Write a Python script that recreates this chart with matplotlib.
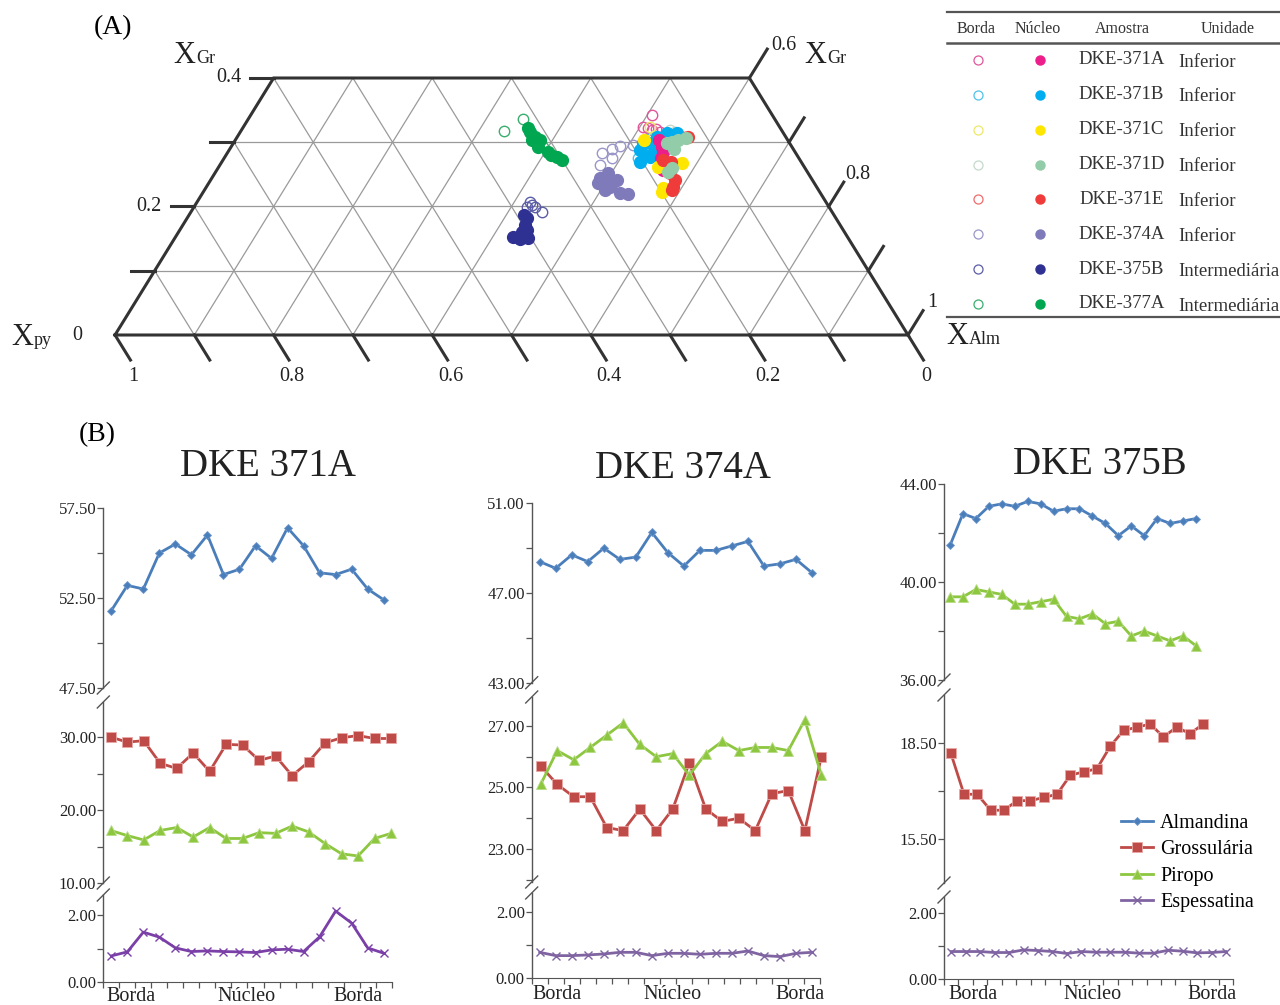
import matplotlib
matplotlib.use('Agg')
import matplotlib.pyplot as plt
from matplotlib.lines import Line2D
from matplotlib.ticker import FixedLocator, FormatStrFormatter
import numpy as np

plt.rcParams['font.family'] = ['Liberation Serif', 'DejaVu Serif']

# ---------------- ternary data (X_Gr, X_Alm) ----------------
samples = ['DKE-371A', 'DKE-371B', 'DKE-371C', 'DKE-371D', 'DKE-371E', 'DKE-374A', 'DKE-375B', 'DKE-377A']
units = ['Inferior', 'Inferior', 'Inferior', 'Inferior', 'Inferior', 'Inferior', 'Intermediária', 'Intermediária']
core_colors = ['#EC1E8C', '#00AEEF', '#FFE600', '#93CCA8', '#EF3B39', '#7F7BBB', '#2E3192', '#00A650']
rim_colors = ['#E0569B', '#4FC3E8', '#EDE86A', '#C5D9CB', '#EE6B6E', '#9A96C8', '#5B5EA6', '#3AAE6E']

gr_371A_core = [0.293, 0.285, 0.303, 0.261, 0.257, 0.275]
alm_371A_core = [0.543, 0.548, 0.535, 0.563, 0.562, 0.551]
gr_371A_rim = [0.342, 0.324, 0.322, 0.319, 0.321, 0.316]
alm_371A_rim = [0.506, 0.504, 0.511, 0.518, 0.522, 0.529]

gr_371B_core = [0.299, 0.288, 0.299, 0.308, 0.314, 0.311, 0.269, 0.277, 0.285, 0.296, 0.303, 0.280, 0.314]
alm_371B_core = [0.516, 0.518, 0.525, 0.529, 0.539, 0.546, 0.527, 0.536, 0.538, 0.542, 0.548, 0.528, 0.552]
gr_371B_rim = [0.275, 0.291, 0.305]
alm_371B_rim = [0.522, 0.522, 0.520]

gr_371C_core = [0.268, 0.223, 0.229, 0.261, 0.303]
alm_371C_core = [0.581, 0.578, 0.576, 0.554, 0.516]
gr_371C_rim = [0.324, 0.310]
alm_371C_rim = [0.513, 0.525]

gr_371D_core = [0.299, 0.300, 0.307, 0.260, 0.254, 0.303, 0.290]
alm_371D_core = [0.546, 0.552, 0.567, 0.572, 0.570, 0.558, 0.560]
gr_371D_rim = [0.319, 0.316]
alm_371D_rim = [0.540, 0.548]

gr_371E_core = [0.308, 0.272, 0.269, 0.230, 0.226, 0.252, 0.241]
alm_371E_core = [0.569, 0.555, 0.567, 0.589, 0.589, 0.574, 0.586]
gr_371E_rim = [0.308, 0.296]
alm_371E_rim = [0.564, 0.537]

gr_374A_core = [0.244, 0.241, 0.238, 0.233, 0.230, 0.241, 0.221, 0.219, 0.252, 0.226, 0.237]
alm_374A_core = [0.490, 0.500, 0.509, 0.499, 0.509, 0.513, 0.526, 0.537, 0.496, 0.505, 0.491]
gr_374A_rim = [0.283, 0.289, 0.275, 0.265, 0.296, 0.294]
alm_374A_rim = [0.473, 0.482, 0.489, 0.479, 0.505, 0.490]

gr_375B_core = [0.182, 0.171, 0.163, 0.160, 0.153, 0.149, 0.151, 0.187]
alm_375B_core = [0.429, 0.432, 0.438, 0.433, 0.426, 0.436, 0.445, 0.422]
gr_375B_rim = [0.207, 0.199, 0.199, 0.191, 0.202]
alm_375B_rim = [0.420, 0.420, 0.430, 0.443, 0.425]

gr_377A_core = [0.316, 0.308, 0.303, 0.303, 0.285, 0.280, 0.277, 0.272, 0.322, 0.293]
alm_377A_core = [0.365, 0.376, 0.374, 0.384, 0.403, 0.410, 0.419, 0.428, 0.360, 0.387]
gr_377A_rim = [0.318, 0.336, 0.293]
alm_377A_rim = [0.332, 0.347, 0.393]

# ---------------- profile data (mol %) ----------------
titles = ['DKE 371A', 'DKE 374A', 'DKE 375B']
series_names = ['Almandina', 'Grossulária', 'Piropo', 'Espessatina']

alm_371A = [51.8, 53.2, 53.0, 55.0, 55.5, 54.9, 56.0, 53.8, 54.1, 55.4, 54.7, 56.4, 55.4, 53.9, 53.8, 54.1, 53.0, 52.4]
grs_371A = [30.0, 29.3, 29.5, 26.4, 25.7, 27.8, 25.3, 29.0, 28.9, 26.8, 27.4, 24.7, 26.6, 29.2, 29.9, 30.2, 29.8, 29.8]
prp_371A = [17.2, 16.5, 15.9, 17.2, 17.6, 16.3, 17.6, 16.1, 16.1, 16.9, 16.8, 17.8, 17.0, 15.4, 14.0, 13.7, 16.1, 16.8]
sps_371A = [0.78, 0.90, 1.49, 1.34, 1.02, 0.91, 0.93, 0.91, 0.90, 0.88, 0.96, 0.98, 0.91, 1.35, 2.12, 1.76, 1.02, 0.86]

alm_374A = [48.4, 48.1, 48.7, 48.4, 49.0, 48.5, 48.6, 49.7, 48.8, 48.2, 48.9, 48.9, 49.1, 49.3, 48.2, 48.3, 48.5, 47.9]
grs_374A = [25.7, 25.1, 24.7, 24.7, 23.7, 23.6, 24.3, 23.6, 24.3, 25.8, 24.3, 23.9, 24.0, 23.6, 24.8, 24.9, 23.6, 26.0]
prp_374A = [25.1, 26.2, 25.9, 26.3, 26.7, 27.1, 26.4, 26.0, 26.1, 25.4, 26.1, 26.5, 26.2, 26.3, 26.3, 26.2, 27.2, 25.4]
sps_374A = [0.77, 0.67, 0.67, 0.69, 0.72, 0.77, 0.77, 0.67, 0.74, 0.74, 0.71, 0.74, 0.74, 0.81, 0.67, 0.64, 0.74, 0.77]

alm_375B = [41.5, 42.8, 42.6, 43.1, 43.2, 43.1, 43.3, 43.2, 42.9, 43.0, 43.0, 42.7, 42.4, 41.9, 42.3, 41.9, 42.6, 42.4, 42.5, 42.6]
grs_375B = [18.2, 16.9, 16.9, 16.4, 16.4, 16.7, 16.7, 16.8, 16.9, 17.5, 17.6, 17.7, 18.4, 18.9, 19.0, 19.1, 18.7, 19.0, 18.8, 19.1]
prp_375B = [39.4, 39.4, 39.7, 39.6, 39.5, 39.1, 39.1, 39.2, 39.3, 38.6, 38.5, 38.7, 38.3, 38.4, 37.8, 38.0, 37.8, 37.6, 37.8, 37.4]
sps_375B = [0.84, 0.84, 0.84, 0.81, 0.81, 0.89, 0.87, 0.84, 0.78, 0.84, 0.82, 0.82, 0.82, 0.79, 0.79, 0.88, 0.85, 0.80, 0.81, 0.84]

profile_labels = ['Borda', 'Núcleo', 'Borda']

# ---------------- figure ----------------
W, H = 1280, 1005
fig = plt.figure(figsize=(W / 100, H / 100), dpi=100)


def px_axes(x0, y0, x1, y1):
    return fig.add_axes([x0 / W, 1 - y1 / H, (x1 - x0) / W, (y1 - y0) / H])


def ftext(x, y, s, **kw):
    return fig.text(x / W, 1 - y / H, s, **kw)


# ================= (A) ternary =================
edge_c = '#333333'
grid_c = '#9a9a9a'
axT = px_axes(115, 78, 908, 335)
axT.set_xlim(0, 1)
axT.set_ylim(0, 0.4)
axT.axis('off')


def tern(gr, alm):
    gr = np.asarray(gr, dtype=float)
    alm = np.asarray(alm, dtype=float)
    return alm + gr / 2, gr


for g in [0.1, 0.2, 0.3]:
    axT.plot(*tern([g, g], [0, 1 - g]), color=grid_c, lw=0.9, zorder=1)
for a in np.arange(1, 10) / 10:
    gm = min(0.4, 1 - a)
    axT.plot(*tern([0, gm], [a, a]), color=grid_c, lw=0.9, zorder=1)
for p in np.arange(1, 10) / 10:
    gm = min(0.4, 1 - p)
    axT.plot(*tern([0, gm], [1 - p, 1 - p - gm]), color=grid_c, lw=0.9, zorder=1)

# outline
ox, oy = tern([0, 0.4, 0.4, 0, 0], [0, 0, 0.6, 1, 0])
axT.plot(ox, oy, color=edge_c, lw=2.2, clip_on=False, zorder=3, solid_joinstyle='miter')

# bottom ticks (X_py)
for a in np.arange(0, 11) / 10:
    axT.plot(*tern([0, -0.039], [a, a + 0.039]), color=edge_c, lw=2.2, clip_on=False)
for a, lab in zip([0, 0.2, 0.4, 0.6, 0.8, 1.0], ['1', '0.8', '0.6', '0.4', '0.2', '0']):
    axT.text(a + 0.023, -0.064, lab, ha='center', va='center', fontsize=14.5, color='#222')
# left ticks (X_Gr)
for g in [0.1, 0.2, 0.3, 0.4]:
    axT.plot([g / 2 - 0.030, g / 2], [g, g], color=edge_c, lw=2.2, clip_on=False)
axT.text(0.2 - 0.057, 0.4, '0.4', ha='center', va='center', fontsize=14.5, color='#222')
axT.text(0.1 - 0.057, 0.2, '0.2', ha='center', va='center', fontsize=14.5, color='#222')
axT.text(-0.048, 0.0, '0', ha='center', va='center', fontsize=14.5, color='#222')
# right ticks
for g in [0, 0.1, 0.2, 0.3, 0.4]:
    ext = 0.045 if g == 0.4 else 0.038
    axT.plot(*tern([g, g + ext], [1 - g, 1 - g]), color=edge_c, lw=2.2, clip_on=False)
for g, lab, dx in zip([0.4, 0.2, 0.0], ['0.6', '0.8', '1'], [0.043, 0.037, 0.030]):
    x, y = tern(g, 1 - g)
    axT.text(x + dx, y + 0.050, lab, ha='center', va='center', fontsize=14.5, color='#222')

# scatter
rims = [(gr_371A_rim, alm_371A_rim), (gr_371B_rim, alm_371B_rim), (gr_371C_rim, alm_371C_rim),
        (gr_371D_rim, alm_371D_rim), (gr_371E_rim, alm_371E_rim), (gr_374A_rim, alm_374A_rim),
        (gr_375B_rim, alm_375B_rim), (gr_377A_rim, alm_377A_rim)]
cores = [(gr_371A_core, alm_371A_core), (gr_371B_core, alm_371B_core), (gr_371C_core, alm_371C_core),
         (gr_371D_core, alm_371D_core), (gr_371E_core, alm_371E_core), (gr_374A_core, alm_374A_core),
         (gr_375B_core, alm_375B_core), (gr_377A_core, alm_377A_core)]
for (g, a), c in zip(rims, rim_colors):
    x, y = tern(g, a)
    axT.plot(x, y, 'o', ms=7.5, mfc='none', mec=c, mew=1.0, zorder=4, clip_on=False)
for idx in [1, 0, 2, 4, 3, 5, 6, 7]:
    g, a = cores[idx]
    x, y = tern(g, a)
    axT.plot(x, y, 'o', ms=8.5, color=core_colors[idx], mec=core_colors[idx], zorder=5, clip_on=False)


# axis titles
def xlabel(x, y, sub, x_sub):
    ftext(x, y, 'X', fontsize=22, ha='left', va='baseline', color='#222')
    ftext(x_sub, y, sub, fontsize=13, ha='left', va='baseline', color='#222')


xlabel(173, 63, 'Gr', 196)
xlabel(11, 345, 'py', 34)
xlabel(804, 63, 'Gr', 827)
xlabel(946, 344, 'Alm', 969)

ftext(113, 28, '(A)', fontsize=20, ha='center', va='center')
ftext(97, 435, '(B)', fontsize=20, ha='center', va='center')

# legend table
axL = px_axes(947, 12, 1280, 317)
axL.set_xlim(0, 1)
axL.set_ylim(7.373, -1.377)
axL.axis('off')
axL.plot([0, 1], [-1.377, -1.377], color='#555', lw=1.6, clip_on=False)
axL.plot([0, 1], [-0.488, -0.488], color='#555', lw=1.8, clip_on=False)
axL.plot([0, 1], [7.373, 7.373], color='#555', lw=1.6, clip_on=False)
for xh, t in zip([0.087, 0.273, 0.526, 0.844], ['Borda', 'Núcleo', 'Amostra', 'Unidade']):
    axL.text(xh, -0.89, t, ha='center', va='center', fontsize=11.5, color='#333')
for i, (s, u) in enumerate(zip(samples, units)):
    axL.plot([0.093], [i], 'o', ms=6.5, mfc='none', mec=rim_colors[i], mew=0.9, clip_on=False)
    axL.plot([0.279], [i], 'o', ms=6.5, color=core_colors[i], clip_on=False)
    axL.text(0.523, i, s, ha='center', va='center', fontsize=13.5, color='#333')
    axL.text(0.694, i + 0.06, u, ha='left', va='center', fontsize=13.5, color='#333')

# ================= (B) profiles =================
spine_c = '#555555'
styles = {
    'Almandina': dict(color='#4A7EBB', marker='D', ms=4.5, mec='#6F98CC', mew=0.6, lw=2.0),
    'Grossulária': dict(color='#BE4B48', marker='s', ms=6.5, mec='#E9A8A6', mew=0.6, lw=2.0),
    'Piropo': dict(color='#8DC63F', marker='^', ms=7, mec='#B7DC86', mew=0.6, lw=2.0),
    'Espessatina': dict(color='#8064A2', marker='x', ms=5.5, mew=1.0, lw=2.0),
}


def slash(x, y):
    fig.add_artist(Line2D([(x - 6) / W, (x + 6) / W], [1 - (y + 6) / H, 1 - (y - 6) / H],
                          transform=fig.transFigure, color=spine_c, lw=1.0))


def yaxis_style(ax, ylim, majors, minors, xlim):
    ax.set_xlim(*xlim)
    ax.set_ylim(*ylim)
    for s in ['top', 'right', 'bottom']:
        ax.spines[s].set_visible(False)
    ax.spines['left'].set_color(spine_c)
    ax.spines['left'].set_linewidth(1.0)
    ax.yaxis.set_major_locator(FixedLocator(majors))
    ax.yaxis.set_minor_locator(FixedLocator(minors))
    ax.yaxis.set_major_formatter(FormatStrFormatter('%.2f'))
    ax.tick_params(axis='y', which='both', direction='out', length=4, width=0.9,
                   color=spine_c, labelsize=12, pad=1, labelcolor='#222')
    ax.set_xticks([])
    ax.patch.set_alpha(0)


panels = [
    dict(xL=103.3, xR=391.7, title_x=268, title_y=467,
         top=dict(y=(508, 688), ylim=(47.5, 57.5), maj=[47.5, 52.5, 57.5], mn=[50, 55], xlim=(0.5, 18.5)),
         mid=dict(y=(702, 883), ylim=(10, 34.8), maj=[10, 20, 30], mn=[15, 25], xlim=(0.551, 18.04)),
         bot=dict(y=(895, 982), ylim=(0, 2.60), maj=[0, 2], mn=[1], xlim=(0.5, 18.5), n=18),
         top_series={'Almandina': alm_371A}, mid_series={'Grossulária': grs_371A, 'Piropo': prp_371A},
         sps=sps_371A, sps_color='#7B3FA8', lab_x=[131, 247, 358], lab_y=996),
    dict(xL=531.7, xR=820, title_x=683, title_y=468,
         top=dict(y=(503.3, 682.7), ylim=(43, 51), maj=[43, 47, 51], mn=[45, 49], xlim=(0.5, 18.5)),
         mid=dict(y=(697, 882), ylim=(21.93, 27.94), maj=[23, 25, 27], mn=[22, 24, 26], xlim=(0.455, 17.92)),
         bot=dict(y=(893, 977.7), ylim=(0, 2.57), maj=[0, 2], mn=[1], xlim=(0.5, 18.5), n=18),
         top_series={'Almandina': alm_374A}, mid_series={'Grossulária': grs_374A, 'Piropo': prp_374A},
         sps=sps_374A, sps_color='#8064A2', lab_x=[557, 672, 800], lab_y=994),
    dict(xL=944, xR=1233.3, title_x=1100, title_y=465,
         top=dict(y=(484.3, 680), ylim=(36, 44), maj=[36, 40, 44], mn=[38, 42], xlim=(0.537, 22.88)),
         mid=dict(y=(695, 883), ylim=(14.12, 20.01), maj=[15.5, 18.5], mn=[17.0], xlim=(0.496, 22.26)),
         bot=dict(y=(897, 979.3), ylim=(0, 2.49), maj=[0, 2], mn=[1], xlim=(0.5, 20.5), n=20),
         top_series={'Almandina': alm_375B, 'Piropo': prp_375B}, mid_series={'Grossulária': grs_375B},
         sps=sps_375B, sps_color='#8064A2', lab_x=[973, 1093, 1212], lab_y=994),
]

legend_handles = {}
for p, title in zip(panels, titles):
    ftext(p['title_x'], p['title_y'], title, fontsize=28, ha='center', va='center', color='#222')
    # top
    t = p['top']
    ax1 = px_axes(p['xL'], t['y'][0], p['xR'], t['y'][1])
    yaxis_style(ax1, t['ylim'], t['maj'], t['mn'], t['xlim'])
    for name, vals in p['top_series'].items():
        x = np.arange(1, len(vals) + 1)
        ln, = ax1.plot(x, vals, clip_on=False, **styles[name])
        legend_handles[name] = ln
    # middle
    m = p['mid']
    ax2 = px_axes(p['xL'], m['y'][0], p['xR'], m['y'][1])
    yaxis_style(ax2, m['ylim'], m['maj'], m['mn'], m['xlim'])
    for name in ['Grossulária', 'Piropo']:
        if name in p['mid_series']:
            vals = p['mid_series'][name]
            x = np.arange(1, len(vals) + 1)
            ln, = ax2.plot(x, vals, clip_on=False, **styles[name])
            legend_handles[name] = ln
    # bottom
    b = p['bot']
    ax3 = px_axes(p['xL'], b['y'][0], p['xR'], b['y'][1])
    yaxis_style(ax3, b['ylim'], b['maj'], b['mn'], b['xlim'])
    ax3.spines['bottom'].set_visible(True)
    ax3.spines['bottom'].set_color(spine_c)
    ax3.set_xticks(np.arange(0.5, b['n'] + 1, 1.0))
    ax3.set_xticklabels([])
    ax3.tick_params(axis='x', direction='out', length=4, width=0.9, color=spine_c)
    st = dict(styles['Espessatina'])
    st['color'] = p['sps_color']
    x = np.arange(1, len(p['sps']) + 1)
    ln, = ax3.plot(x, p['sps'], clip_on=False, **st)
    legend_handles['Espessatina'] = ln
    for lx, lab in zip(p['lab_x'], profile_labels):
        ftext(lx, p['lab_y'], lab, fontsize=14.5, ha='center', va='center', color='#222')
    # axis breaks
    for yy in [t['y'][1], m['y'][0], m['y'][1], b['y'][0]]:
        slash(p['xL'], yy)

fig.legend([legend_handles[n] for n in series_names], series_names,
           loc='center left', bbox_to_anchor=(1121 / W, 1 - 863 / H), frameon=False,
           fontsize=14.5, handlelength=1.6, handletextpad=0.35, labelspacing=0.36,
           borderpad=0, borderaxespad=0)

fig.savefig('out.png', dpi=100)
